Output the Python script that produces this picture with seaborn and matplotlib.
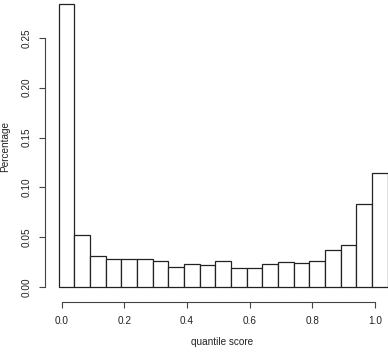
import numpy as np
import matplotlib
matplotlib.use("Agg")
import matplotlib.pyplot as plt
import seaborn as sns

# histogram bins (width 0.05) and bar heights
bin_edges = [-0.01 + 0.05 * k for k in range(22)]
heights = [0.284, 0.052, 0.031, 0.028, 0.028, 0.028, 0.026, 0.020, 0.023, 0.022, 0.026,
           0.019, 0.019, 0.023, 0.025, 0.024, 0.026, 0.037, 0.042, 0.083, 0.115]
x_ticks = [0.0, 0.2, 0.4, 0.6, 0.8, 1.0]
y_ticks = [0.00, 0.05, 0.10, 0.15, 0.20, 0.25]

sns.set_style("white")
plt.rcParams["font.family"] = ["Liberation Sans", "DejaVu Sans"]

centers = [(bin_edges[i] + bin_edges[i + 1]) / 2 for i in range(len(heights))]

fig = plt.figure(figsize=(3.88, 3.57), dpi=100)
ax = fig.add_axes([45 / 388, 55.5 / 357, 343 / 388, 301.5 / 357])

sns.histplot(x=centers, weights=heights, bins=bin_edges, stat="count",
             color="white", edgecolor="#222222", linewidth=0.9, alpha=1, ax=ax)

ax.set_xlim(-0.0533, 1.0415)
ax.set_ylim(-0.0142, 0.2878)

for s in ["top", "right"]:
    ax.spines[s].set_visible(False)
for s in ["left", "bottom"]:
    ax.spines[s].set_color("#444444")
    ax.spines[s].set_linewidth(0.8)
ax.spines["left"].set_bounds(0, 0.25)
ax.spines["bottom"].set_bounds(0, 1)

ax.set_xticks(x_ticks)
ax.set_xticklabels([f"{v:.1f}" for v in x_ticks])
ax.set_yticks(y_ticks)
ax.set_yticklabels([f"{v:.2f}" for v in y_ticks], rotation=90, va="center")
ax.tick_params(axis="both", direction="out", length=4.5, width=0.8, color="#444444",
               labelsize=7.2, labelcolor="#222222", left=True, bottom=True)
ax.tick_params(axis="x", pad=6)
ax.tick_params(axis="y", pad=5)

ax.set_xlabel("")
ax.set_ylabel("")
fig.text(222 / 388, 1 - 341.7 / 357, "quantile score", ha="center", va="center",
         fontsize=7.2, color="#222222")
fig.text(5.5 / 388, 1 - 146.7 / 357, "Percentage", ha="center", va="center",
         rotation=90, fontsize=7.2, color="#222222")

fig.savefig("out.png", dpi=100)
